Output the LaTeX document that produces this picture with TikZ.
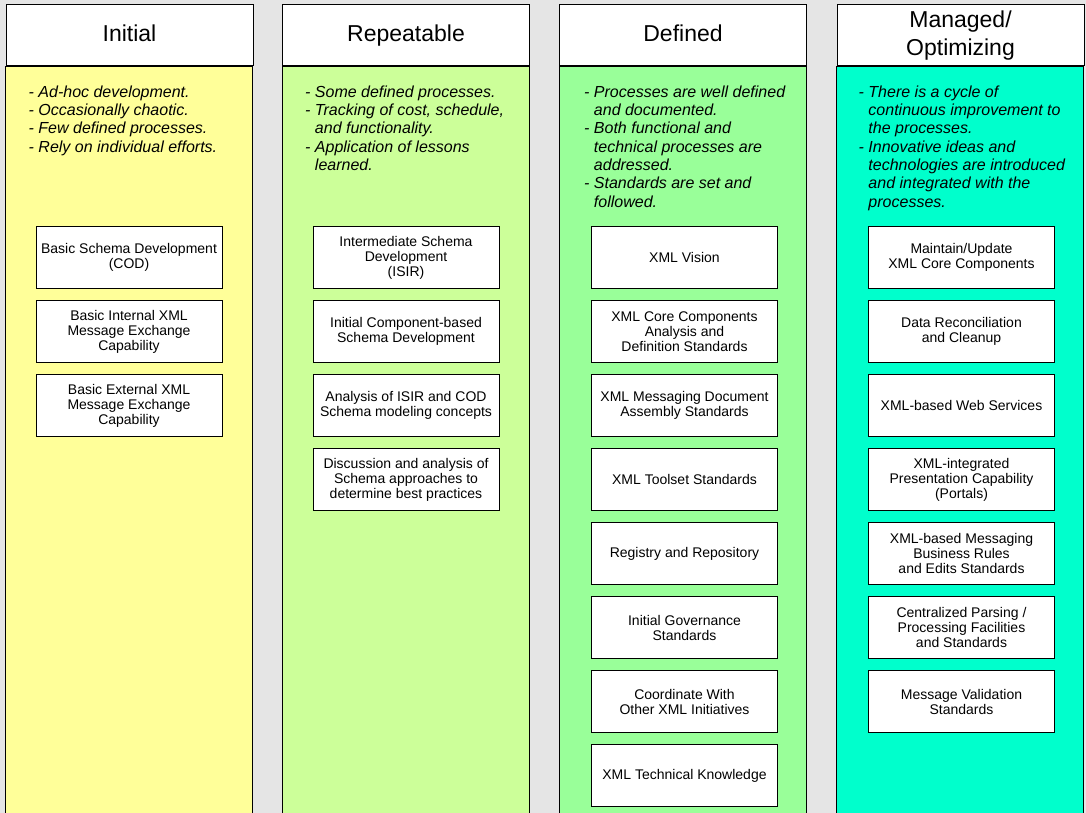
\documentclass[tikz,border=0pt]{standalone}
\usepackage{fontspec}
\setmainfont{Liberation Sans}
\usetikzlibrary{positioning}
\definecolor{initialfill}{HTML}{FFFF99}
\definecolor{repeatfill}{HTML}{CCFF99}
\definecolor{definedfill}{HTML}{99FF99}
\definecolor{managedfill}{HTML}{00FFCC}
\definecolor{pagegray}{HTML}{E5E5E5}
\newcommand{\cont}{\phantom{- }}

\begin{document}
\begin{tikzpicture}[x=1pt,y=-1pt]
  \tikzset{
    head/.style={draw=black,line width=1pt,fill=white,minimum width=247pt,
                 minimum height=61pt,inner sep=0pt,align=center,
                 font=\fontsize{23}{28}\selectfont},
    body/.style={draw=black,line width=1pt},
    notes/.style={anchor=north west,inner sep=0pt,align=left,
                  font=\fontsize{16}{18.3}\selectfont\itshape},
    task/.style={draw=black,line width=1pt,fill=white,minimum width=186pt,
                 minimum height=62pt,inner sep=2pt,align=center,
                 font=\fontsize{14}{15}\selectfont}
  }
  \clip (0,0) rectangle (1086,813);
  \fill[pagegray] (0,0) rectangle (1086,813);

  % column heads
  \node[head] (initial) at (129.5,35.5) {Initial\strut};
  \node[head] (repeatable) at (406,35.5) {Repeatable\strut};
  \node[head] (defined) at (683,35.5) {Defined\strut};
  \node[head] (managed) at (960.5,35.5) {Managed/\\Optimizing};

  % column bodies
  \draw[body,fill=initialfill] (initial.south west) rectangle ++(247,780);
  \draw[body,fill=repeatfill] (repeatable.south west) rectangle ++(247,780);
  \draw[body,fill=definedfill] (defined.south west) rectangle ++(247,780);
  \draw[body,fill=managedfill] (managed.south west) rectangle ++(247,780);

  % level descriptions
  \node[notes] (initial-notes) at ([shift={(23,19)}]initial.south west)
    {- Ad-hoc development.\\- Occasionally chaotic.\\
     - Few defined processes.\\- Rely on individual efforts.};
  \node[notes] (repeatable-notes) at ([shift={(23,19)}]repeatable.south west)
    {- Some defined processes.\\- Tracking of cost, schedule,\\
     \cont and functionality.\\- Application of lessons\\\cont learned.};
  \node[notes] (defined-notes) at ([shift={(25,19)}]defined.south west)
    {- Processes are well defined\\\cont and documented.\\
     - Both functional and\\\cont technical processes are\\
     \cont addressed.\\- Standards are set and\\\cont followed.};
  \node[notes] (managed-notes) at ([shift={(22,19)}]managed.south west)
    {- There is a cycle of\\\cont continuous improvement to\\
     \cont the processes.\\- Innovative ideas and\\
     \cont technologies are introduced\\\cont and integrated with the\\
     \cont processes.};

  % initial
  \node[task] (cod) at (129,257.5) {Basic Schema Development\\(COD)};
  \node[task,below=11pt of cod] (intxml) {Basic Internal XML\\Message Exchange\\Capability};
  \node[task,below=11pt of intxml] (extxml) {Basic External XML\\Message Exchange\\Capability};

  % repeatable
  \node[task] (isir) at (406,257.5) {Intermediate Schema\\Development\\(ISIR)};
  \node[task,below=11pt of isir] (compschema) {Initial Component-based\\Schema Development};
  \node[task,below=11pt of compschema] (isircod) {Analysis of ISIR and COD\\Schema modeling concepts};
  \node[task,below=11pt of isircod] (practices) {Discussion and analysis of\\Schema approaches to\\determine best practices};

  % defined
  \node[task] (vision) at (684.5,257.5) {XML Vision};
  \node[task,below=11pt of vision] (corecomp) {XML Core Components\\Analysis and\\Definition Standards};
  \node[task,below=11pt of corecomp] (assembly) {XML Messaging Document\\Assembly Standards};
  \node[task,below=11pt of assembly] (toolset) {XML Toolset Standards};
  \node[task,below=11pt of toolset] (registry) {Registry and Repository};
  \node[task,below=11pt of registry] (governance) {Initial Governance\\Standards};
  \node[task,below=11pt of governance] (coordinate) {Coordinate With\\Other XML Initiatives};
  \node[task,below=11pt of coordinate] (knowledge) {XML Technical Knowledge};

  % managed / optimizing
  \node[task] (maintain) at (961.5,257.5) {Maintain/Update\\XML Core Components};
  \node[task,below=11pt of maintain] (cleanup) {Data Reconciliation\\and Cleanup};
  \node[task,below=11pt of cleanup] (webserv) {XML-based Web Services};
  \node[task,below=11pt of webserv] (portals) {XML-integrated\\Presentation Capability\\(Portals)};
  \node[task,below=11pt of portals] (rules) {XML-based Messaging\\Business Rules\\and Edits Standards};
  \node[task,below=11pt of rules] (parsing) {Centralized Parsing /\\Processing Facilities\\and Standards};
  \node[task,below=11pt of parsing] (validation) {Message Validation\\Standards};
\end{tikzpicture}
\end{document}
